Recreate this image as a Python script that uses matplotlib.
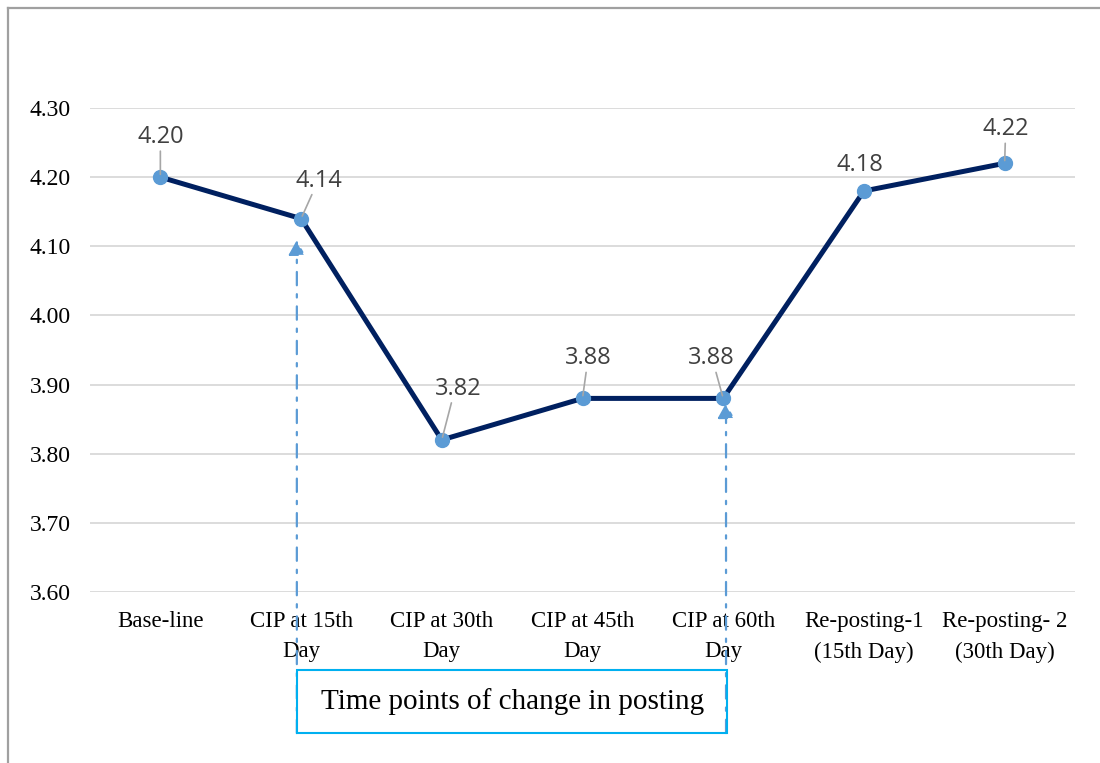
import matplotlib.pyplot as plt
from matplotlib.lines import Line2D
from matplotlib.patches import Rectangle

# time points and mean scores
categories = ["Base-line", "CIP at 15th\nDay", "CIP at 30th\nDay", "CIP at 45th\nDay",
              "CIP at 60th\nDay", "Re-posting-1\n(15th Day)", "Re-posting- 2\n(30th Day)"]
scores = [4.20, 4.14, 3.82, 3.88, 3.88, 4.18, 4.22]
y_ticks = [3.60, 3.70, 3.80, 3.90, 4.00, 4.10, 4.20, 4.30]

# label offsets in pixels (dx, dy) and whether a leader line is drawn
label_offsets = [(0, 40), (18, 38), (16, 51), (6, 40), (-12, 40), (-4, 26), (1, 34)]
leaders = [True, True, True, True, True, False, True]

serif = "Liberation Serif"
line_color = "#002060"
marker_color = "#5B9BD5"

fig = plt.figure(figsize=(11, 7.63), dpi=100)
ax = fig.add_axes([90 / 1100, 1 - 592 / 763, 985 / 1100, 484 / 763])

x = list(range(len(categories)))
ax.plot(x, scores, color=line_color, lw=3.6, zorder=3)
ax.plot(x, scores, "o", color=marker_color, ms=10, zorder=4)

for xi, v, (dx, dy), lead in zip(x, scores, label_offsets, leaders):
    ax.annotate(f"{v:.2f}", (xi, v), xytext=(dx * 0.72, dy * 0.72), textcoords="offset points",
                ha="center", va="center", fontsize=17, family="Open Sans", color="#404040", zorder=5)
    if lead:
        ax.annotate("", (xi, v), xytext=(dx * 0.72 * 0.6, (dy - 14) * 0.72), textcoords="offset points",
                    arrowprops=dict(arrowstyle="-", color="#A6A6A6", lw=1.2, shrinkA=0, shrinkB=2), zorder=5)

ax.set_xlim(-0.5, len(categories) - 0.5)
ax.set_ylim(3.6, 4.3)
ax.set_yticks(y_ticks)
ax.set_yticklabels([f"{t:.2f}" for t in y_ticks], family=serif, fontsize=17)
ax.set_xticks(x)
ax.set_xticklabels(categories, family=serif, fontsize=16.5, linespacing=1.55)
ax.tick_params(length=0, axis="y", pad=14)
ax.tick_params(length=0, axis="x", pad=14)
ax.grid(axis="y", color="#D9D9D9", lw=1.3)
ax.set_axisbelow(True)
for s in ax.spines.values():
    s.set_visible(False)

# posting-change arrows and caption box
box_left, box_right = 0.97, 4.03
box_bottom, box_top = 3.396, 3.487
for ax_x, tip in [(box_left, 4.109), (4.02, 3.873)]:
    ax.annotate("", (ax_x, tip), xytext=(ax_x, box_bottom), annotation_clip=False,
                arrowprops=dict(arrowstyle="-|>,head_width=0.25,head_length=0.45", mutation_scale=20,
                                color=marker_color, lw=1.6, ls=(0, (6, 4, 1.5, 4)),
                                shrinkA=0, shrinkB=0), zorder=2)
ax.add_patch(Rectangle((box_left, box_bottom), box_right - box_left, box_top - box_bottom,
                       fill=False, edgecolor="#00B0F0", lw=1.5, clip_on=False, zorder=3))
ax.text((box_left + box_right) / 2, (box_bottom + box_top) / 2, "Time points of change in posting",
        ha="center", va="center", family=serif, fontsize=21, clip_on=False)

# outer frame (top and left edges)
fig.add_artist(Line2D([7.5 / 1100, 7.5 / 1100], [0, 1 - 7.5 / 763], color="#A0A0A0", lw=1.6))
fig.add_artist(Line2D([7.5 / 1100, 1], [1 - 7.5 / 763, 1 - 7.5 / 763], color="#A0A0A0", lw=1.6))

fig.savefig("out.png", dpi=100)
